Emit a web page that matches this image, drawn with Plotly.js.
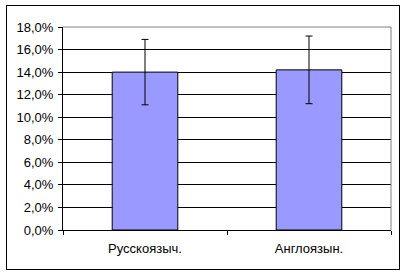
<!DOCTYPE html>
<html><head><meta charset="utf-8">
<script src="https://cdn.plot.ly/plotly-3.0.1.min.js"></script>
<style>
html,body{margin:0;padding:0;background:#fff;}
#wrap{position:relative;width:406px;height:276px;}
#chart{position:absolute;left:0;top:0;width:406px;height:276px;}
#frame{position:absolute;left:6px;top:5px;width:392px;height:263px;border:1px solid #000;pointer-events:none;}
</style>
</head><body>
<div id="wrap"><div id="chart"></div><div id="frame"></div></div>
<script>
const categories = ['Русскоязыч.', 'Англоязын.'];
const values = [14.0, 14.2];
const errors = [2.9, 3.0];
const yTicks = [0, 2, 4, 6, 8, 10, 12, 14, 16, 18];

const trace = {
  type: 'bar',
  x: categories,
  y: values,
  marker: {color: '#9999FF', line: {color: '#000', width: 1}},
  error_y: {type: 'data', array: errors, visible: true, color: '#000', thickness: 1, width: 3.5},
  hoverinfo: 'none'
};

const layout = {
  width: 406, height: 276,
  margin: {l: 63, r: 15, t: 27, b: 46, pad: 0},
  paper_bgcolor: 'rgba(0,0,0,0)',
  plot_bgcolor: '#fff',
  separators: ', ',
  font: {family: 'Liberation Sans, Arial, sans-serif', size: 13, color: '#000'},
  showlegend: false,
  bargap: 0.6,
  xaxis: {
    type: 'category',
    showline: true, linecolor: '#000', linewidth: 1,
    ticks: 'outside', ticklen: 4, tickcolor: '#000', tickson: 'boundaries',
    showgrid: false, zeroline: false,
    ticklabelstandoff: 6,
    tickfont: {size: 13}
  },
  yaxis: {
    range: [0, 18],
    tickmode: 'array', tickvals: yTicks,
    ticktext: yTicks.map(v => v.toFixed(1).replace('.', ',') + '%'),
    showline: true, linecolor: '#000', linewidth: 1,
    ticks: 'outside', ticklen: 4, tickcolor: '#000',
    showgrid: true, gridcolor: '#000', gridwidth: 1,
    zeroline: false,
    ticklabelstandoff: 2,
    tickfont: {size: 13}
  },
  shapes: [
    {type: 'line', xref: 'paper', yref: 'paper', x0: 0, x1: 1, y0: 1, y1: 1, line: {color: '#808080', width: 1}, layer: 'above'},
    {type: 'line', xref: 'paper', yref: 'paper', x0: 1, x1: 1, y0: 0, y1: 1, line: {color: '#808080', width: 1}, layer: 'above'}
  ]
};

Plotly.newPlot('chart', [trace], layout, {staticPlot: true, displayModeBar: false});
</script>
</body></html>
